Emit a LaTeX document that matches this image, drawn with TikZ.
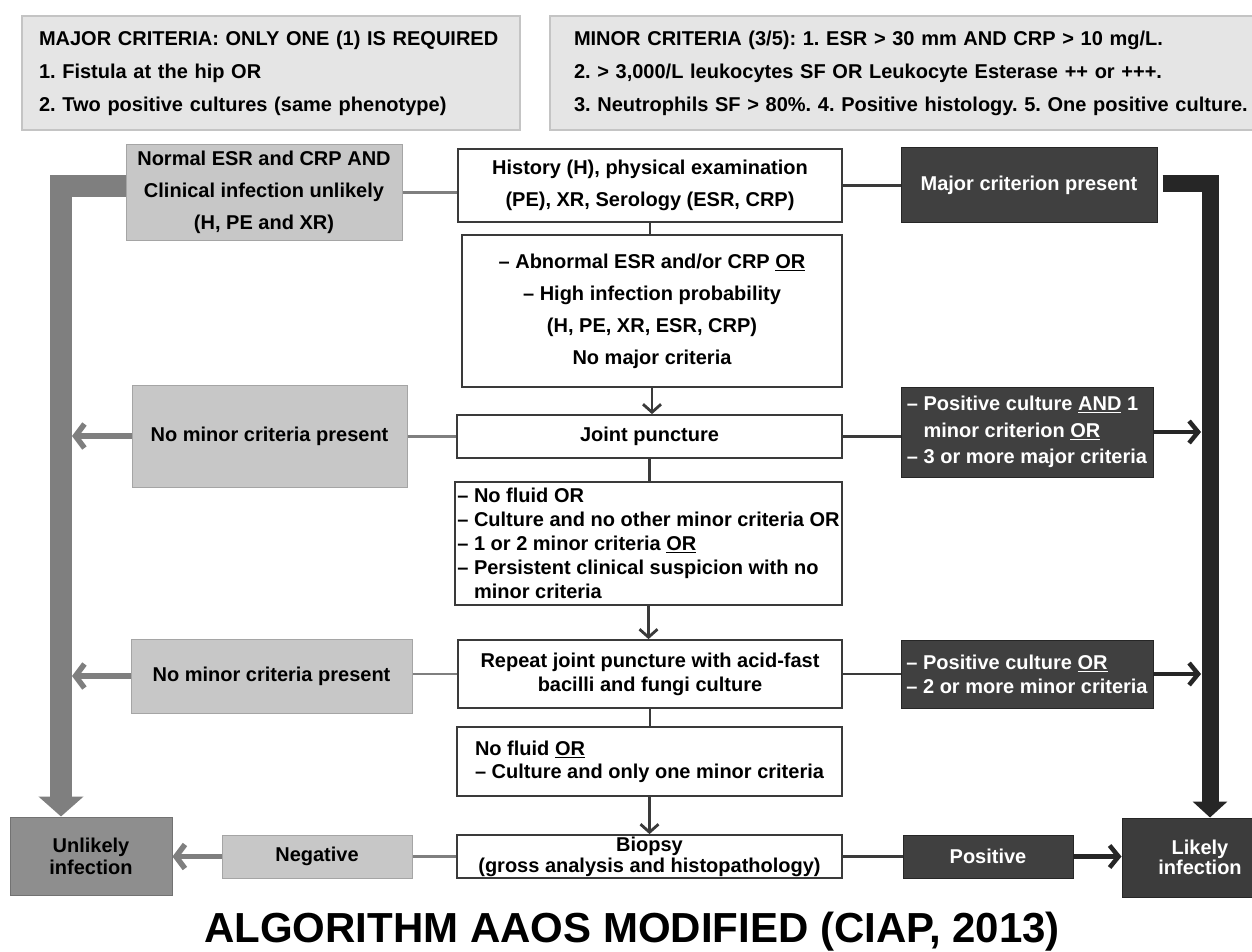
\documentclass[tikz,border=0pt]{standalone}
\usepackage{fontspec}
\setmainfont{Liberation Sans}
\usetikzlibrary{arrows.meta,positioning}
\definecolor{topfill}{HTML}{E5E5E5}
\definecolor{topline}{HTML}{C4C4C4}
\definecolor{lgray}{HTML}{C7C7C7}
\definecolor{lline}{HTML}{A5A5A5}
\definecolor{ugray}{HTML}{8E8E8E}
\definecolor{dkbox}{HTML}{404040}
\definecolor{barblack}{HTML}{262626}
\definecolor{bargray}{HTML}{7F7F7F}
\definecolor{dkline}{HTML}{3A3A3A}
\newcommand{\hang}{\phantom{– }}
\frenchspacing

\begin{document}
\begin{tikzpicture}[x=1pt,y=-1pt,
   lsp/.style={font=\bfseries\fontsize{20}{#1}\selectfont},
   sz/.style 2 args={minimum width=#1pt,minimum height=#2pt,inner sep=0pt},
   topbox/.style={draw=topline,line width=2pt,fill=topfill,align=left},
   wbox/.style={draw=dkline,line width=1.8pt,fill=white},
   lbox/.style={draw=lline,line width=1pt,fill=lgray},
   dbox/.style={draw=barblack,line width=1pt,fill=dkbox,text=white},
   gline/.style={draw=bargray,line width=2.8pt},
   dline/.style={draw=dkline,line width=2.8pt},
   darr/.style={dline,-{Straight Barb[length=8pt,width=18pt]}},
   garr/.style={draw=bargray,line width=5.5pt,-{Straight Barb[length=9pt,width=24pt]}},
   karr/.style={draw=barblack,line width=4.5pt,-{Straight Barb[length=9pt,width=22pt]}}]
   \path[use as bounding box,fill=white] (0,0) rectangle (1252,952);

   % criteria boxes
   \node[topbox,lsp=33,sz={498}{114},inner xsep=17pt,text width=464pt] (majc) at (271,73)
      {MAJOR CRITERIA: ONLY ONE (1) IS REQUIRED\\
       1. Fistula at the hip OR\\
       2. Two positive cultures (same phenotype)};
   \node[topbox,lsp=33,sz={722}{114},inner xsep=24pt,text width=674pt] (minc) at (911,73)
      {MINOR CRITERIA (3/5): 1. ESR > 30 mm AND CRP > 10 mg/L.\\
       2. > 3,000/L leukocytes SF OR Leukocyte Esterase ++ or +++.\\
       3. Neutrophils SF > 80\%. 4. Positive histology. 5. One positive culture.};

   % centre column
   \node[wbox,lsp=32,sz={384}{73},align=center] (hist) at (650,185.5)
      {History (H), physical examination\\ (PE), XR, Serology (ESR, CRP)};
   \node[wbox,lsp=32,sz={380}{152},align=center] (abn) at (652,311)
      {– Abnormal ESR and/or CRP \underline{OR}\\ – High infection probability\\
       (H, PE, XR, ESR, CRP)\\ No major criteria};
   \node[wbox,lsp=24,sz={385}{43}] (joint) at (649.5,436.5) {Joint puncture};
   \node[wbox,lsp=24,sz={387}{123},align=left] (fluid) at (648.5,543.5)
      {– No fluid OR\\ – Culture and no other minor criteria OR\\
       – 1 or 2 minor criteria \underline{OR}\\ – Persistent clinical suspicion with no\\
       \hang minor criteria};
   \node[wbox,lsp=24,sz={384}{68},align=center] (rep) at (650,674)
      {Repeat joint puncture with acid-fast\\ bacilli and fungi culture};
   \node[wbox,lsp=23,sz={385}{69},align=left] (one) at (649.5,761.5)
      {No fluid \underline{OR}\\ – Culture and only one minor criteria};
   \node[wbox,lsp=21,sz={385}{43},align=center] (biop) at (649.5,856.5)
      {Biopsy\\ (gross analysis and histopathology)};

   % left column
   \node[lbox,lsp=32,sz={276}{95},align=center] (normal) at (264,192.5)
      {Normal ESR and CRP AND\\ Clinical infection unlikely\\ (H, PE and XR)};
   \node[lbox,lsp=24,sz={275}{102}] (nom1) at (269.5,436) {No minor criteria present};
   \node[lbox,lsp=24,sz={281}{74}] (nom2) at (271.5,676) {No minor criteria present};
   \node[lbox,lsp=24,sz={190}{43}] (neg) at (317,856.5) {Negative};
   \node[lbox,draw=ugray!80!black,fill=ugray,lsp=22,sz={162}{78},align=center] (unl) at (91,856)
      {Unlikely\\ infection};

   % right column
   \node[dbox,lsp=24,sz={256}{74}] (major) at (1029,185) {Major criterion present};
   \node[dbox,lsp=26.5,sz={252}{90},align=left] (posand) at (1027,432)
      {– Positive culture \underline{AND} 1\\ \hang minor criterion \underline{OR}\\
       – 3 or more major criteria};
   \node[dbox,lsp=24,sz={252}{68},align=left] (posor) at (1027,674)
      {– Positive culture \underline{OR}\\ – 2 or more minor criteria};
   \node[dbox,lsp=24,sz={170}{43}] (pos) at (988,856.5) {Positive};
   \node[dbox,fill=barblack!90!white,lsp=20,sz={156}{79},align=center] (lik) at (1200,857.5)
      {Likely\\ infection};

   \node[font=\bfseries\fontsize{42}{42}\selectfont,anchor=base] (title) at (632,942)
      {ALGORITHM AAOS MODIFIED (CIAP, 2013)};

   % bars
   \coordinate (lbar) at (61,0);
   \coordinate (lbarR) at (72,0);
   \coordinate (rbar) at (1210,0);
   \coordinate (rbarL) at (1201,0);
   \draw[bargray,line width=22pt,line join=miter,-{Triangle[length=20pt,width=44pt]}]
      ([yshift=6pt]normal.west) -| (lbar |- unl.north);
   \draw[barblack,line width=17pt,line join=miter,-{Triangle[length=16pt,width=34pt]}]
      ([xshift=5pt,yshift=1.5pt]major.east) -| (rbar |- lik.north);

   % connectors
   \draw[gline] (normal.east) -- (normal.east -| hist.west);
   \draw[dline] (hist.east) -- (hist.east -| major.west);
   \draw[dline] (hist.south) -- (hist.south |- abn.north);
   \draw[darr] (abn.south) -- (abn.south |- joint.north);
   \draw[gline] (joint.west) -- (joint.west -| nom1.east);
   \draw[dline] (joint.east) -- (joint.east -| posand.west);
   \draw[dline] (joint.south) -- (joint.south |- fluid.north);
   \draw[darr] (fluid.south) -- (fluid.south |- rep.north);
   \draw[gline] (rep.west) -- (rep.west -| nom2.east);
   \draw[dline] (rep.east) -- (rep.east -| posor.west);
   \draw[dline] (rep.south) -- (rep.south |- one.north);
   \draw[darr] (one.south) -- (one.south |- biop.north);
   \draw[gline] (biop.west) -- (biop.west -| neg.east);
   \draw[dline] (biop.east) -- (biop.east -| pos.west);

   \draw[garr] (nom1.west) -- (nom1.west -| lbarR);
   \draw[garr] (nom2.west) -- (nom2.west -| lbarR);
   \draw[garr] (neg.west) -- (neg.west -| unl.east);
   \draw[karr] (posand.east) -- (posand.east -| rbarL);
   \draw[karr] (posor.east) -- (posor.east -| rbarL);
   \draw[karr] (pos.east) -- (pos.east -| lik.west);
\end{tikzpicture}
\end{document}
